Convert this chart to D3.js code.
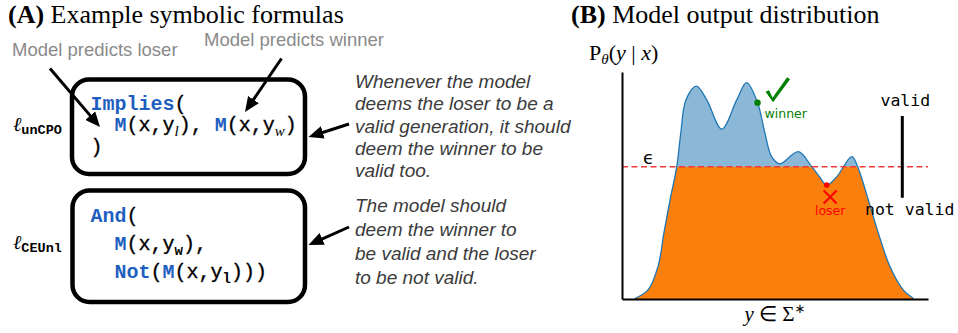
<!DOCTYPE html>
<html>
<head>
<meta charset="utf-8">
<script src="https://cdn.jsdelivr.net/npm/d3@7"></script>
<style>
  body { margin: 0; background: #fff; }
  .code { font-family: "Liberation Mono", "Courier New", monospace; font-size: 20px; }
  .note { font-family: "Liberation Sans", sans-serif; font-style: italic; font-size: 19px; fill: #3b3b3b; }
</style>
</head>
<body>
<div id="chart"></div>
<script>
// Data (x along y ∈ Σ*, density in arbitrary units 0-100)

const curveX = [4.2, 8.5, 11.8, 13.7, 15.7, 17.9, 19.2, 20.9, 24.3, 27.7, 32.6, 37.5, 40.7, 44.3, 46.7,
  48.9, 51.6, 57.6, 62.0, 64.5, 66.9, 70.2, 75.1, 77.0, 80.5, 83.8, 87.6, 91.9, 95.2];
const curveY = [0.2, 4.0, 14.5, 29.1, 43.6, 58.3, 73.0, 87.7, 93.8, 87.7, 74.8, 87.7, 95.3, 86.5, 73.1,
  62.7, 59.5, 64.9, 58.3, 53.9, 50.2, 53.9, 62.7, 58.3, 43.6, 28.9, 14.2, 4.0, 0.3];
const epsilon = 58.3;
const winnerIndex = 13;
const loserIndex = 20;

const noteUnCPO = ["Whenever the model", "deems the loser to be a", "valid generation, it should",
  "deem the winner to be", "valid too."];
const noteCEUnl = ["The model should", "deem the winner to", "be valid and the loser", "to be not valid."];

// code lines: [text, kind]
const codeUnCPO = [
  [["Implies", "kw"], ["(", "p"]],
  [["M", "kw"], ["(x,y", "p"], ["l", "subI"], ["), ", "p"], ["M", "kw"], ["(x,y", "p"], ["w", "subI"], [")", "p"]],
  [[")", "p"]]
];
const codeCEUnl = [
  [["And", "kw"], ["(", "p"]],
  [["M", "kw"], ["(x,y", "p"], ["w", "subM"], ["),", "p"]],
  [["Not", "kw"], ["(", "p"], ["M", "kw"], ["(x,y", "p"], ["l", "subM"], [")))", "p"]]
];

const blue = "#1f5fc0";

const svg = d3.select("#chart").append("svg").attr("width", 958).attr("height", 333);

const defs = svg.append("defs");
defs.append("marker")
  .attr("id", "head")
  .attr("viewBox", "0 0 15 13")
  .attr("refX", 1)
  .attr("refY", 6.5)
  .attr("markerWidth", 15)
  .attr("markerHeight", 13)
  .attr("markerUnits", "userSpaceOnUse")
  .attr("orient", "auto")
  .append("path")
  .attr("d", "M0,0L15,6.5L0,13z")
  .attr("fill", "black");

function arrow(x1, y1, x2, y2) {
  const len = Math.hypot(x2 - x1, y2 - y1);
  const k = (len - 14) / len;
  svg.append("line")
    .attr("x1", x1).attr("y1", y1)
    .attr("x2", x1 + (x2 - x1) * k).attr("y2", y1 + (y2 - y1) * k)
    .attr("stroke", "black").attr("stroke-width", 3)
    .attr("marker-end", "url(#head)");
}

// ---------- Panel A ----------

const titleA = svg.append("text").attr("x", 8).attr("y", 23)
  .style("font-family", "Liberation Serif").style("font-size", "26px");
titleA.append("tspan").style("font-weight", "bold").text("(A)");
titleA.append("tspan").text(" Example symbolic formulas");

svg.append("text").attr("x", 12).attr("y", 56)
  .style("font-family", "Liberation Sans").style("font-size", "18.5px").attr("fill", "#8a8a8a")
  .text("Model predicts loser");
svg.append("text").attr("x", 204).attr("y", 46)
  .style("font-family", "Liberation Sans").style("font-size", "18.5px").attr("fill", "#8a8a8a")
  .text("Model predicts winner");

svg.append("rect").attr("x", 72).attr("y", 79.5).attr("width", 233).attr("height", 94.5)
  .attr("rx", 17).attr("fill", "none").attr("stroke", "black").attr("stroke-width", 4.5);
svg.append("rect").attr("x", 72.5).attr("y", 190.5).attr("width", 232.5).attr("height", 111.5)
  .attr("rx", 17).attr("fill", "none").attr("stroke", "black").attr("stroke-width", 4.5);

function codeLine(x, y, segs) {
  const t = svg.append("text").attr("class", "code").attr("x", x).attr("y", y);
  let shift = 0;
  segs.forEach(([str, kind]) => {
    const sp = t.append("tspan").text(str);
    const target = kind.startsWith("sub") ? 5 : 0;
    if (target !== shift) { sp.attr("dy", target - shift); shift = target; }
    if (kind === "kw") {
      sp.attr("fill", blue).style("font-weight", "bold");
    } else if (kind === "subI") {
      sp.style("font-family", "Liberation Serif").style("font-style", "italic").style("font-size", "15px");
    } else if (kind === "subM") {
      sp.style("font-size", "14px").style("font-weight", "bold");
    } else {
      sp.attr("stroke", "black").attr("stroke-width", 0.35);
    }
  });
}

const codeX1 = [90.5, 114.5, 90.5];
const codeY1 = [109.5, 131, 152.5];
codeUnCPO.forEach((segs, i) => codeLine(codeX1[i], codeY1[i], segs));
const codeX2 = [90.5, 114.5, 114.5];
const codeY2 = [221.5, 250, 278];
codeCEUnl.forEach((segs, i) => codeLine(codeX2[i], codeY2[i], segs));

function lossLabel(y, sub) {
  const t = svg.append("text").attr("x", 13).attr("y", y);
  t.append("tspan").text("ℓ")
    .style("font-family", "DejaVu Serif").style("font-style", "italic").style("font-size", "20px");
  t.append("tspan").text(sub).attr("dy", 2.5)
    .style("font-family", "Liberation Mono").style("font-weight", "bold").style("font-size", "13.5px");
}
lossLabel(131, "unCPO");
lossLabel(249, "CEUnl");

noteUnCPO.forEach((s, i) => {
  svg.append("text").attr("class", "note").attr("x", 355).attr("y", 87.7 + i * 22.4).text(s);
});
noteCEUnl.forEach((s, i) => {
  svg.append("text").attr("class", "note").attr("x", 355).attr("y", 212 + i * 23.9).text(s);
});

arrow(50, 68.5, 100, 127);
arrow(281.5, 58.5, 245, 112);
arrow(349, 124, 308.5, 137);
arrow(349, 227, 308.5, 245);

// ---------- Panel B ----------

const titleB = svg.append("text").attr("x", 571).attr("y", 23)
  .style("font-family", "Liberation Serif").style("font-size", "26px");
titleB.append("tspan").style("font-weight", "bold").text("(B)");
titleB.append("tspan").text(" Model output distribution");

const x = d3.scaleLinear().domain([0, 100]).range([622, 928]);
const y = d3.scaleLinear().domain([0, 100]).range([299, 72]);

const pts = curveX.map((v, i) => [v, curveY[i]]);

const area = d3.area()
  .x(d => x(d[0]))
  .y0(y(0))
  .y1(d => y(d[1]))
  .curve(d3.curveCatmullRom.alpha(0.5));

const line = d3.line()
  .x(d => x(d[0]))
  .y(d => y(d[1]))
  .curve(d3.curveCatmullRom.alpha(0.5));

defs.append("clipPath").attr("id", "below-eps")
  .append("rect")
  .attr("x", x(0)).attr("y", y(epsilon))
  .attr("width", x(100) - x(0)).attr("height", y(0) - y(epsilon));

svg.append("path").datum(pts).attr("d", area).attr("fill", "#8cb8d8");
svg.append("path").datum(pts).attr("d", area).attr("fill", "#fa7f0c").attr("clip-path", "url(#below-eps)");
svg.append("path").datum(pts).attr("d", line).attr("fill", "none").attr("stroke", "#1f77b4").attr("stroke-width", 1.3);

svg.append("line")
  .attr("x1", x(0)).attr("x2", x(100))
  .attr("y1", y(epsilon)).attr("y2", y(epsilon))
  .attr("stroke", "#ee3a3a").attr("stroke-width", 1.5).attr("stroke-dasharray", "6,3.5");

// axes: spines only
svg.append("g").attr("transform", `translate(${x(0)},0)`)
  .call(d3.axisLeft(y).ticks(0).tickSizeOuter(0))
  .select(".domain").attr("stroke-width", 2);
svg.append("g").attr("transform", `translate(0,${y(0)})`)
  .call(d3.axisBottom(x).ticks(0).tickSizeOuter(0))
  .select(".domain").attr("stroke-width", 2);

svg.append("text").attr("x", 643).attr("y", 164)
  .style("font-family", "DejaVu Sans").style("font-size", "18px").text("ϵ");

// axis labels
const yl = svg.append("text").attr("x", 589).attr("y", 60)
  .style("font-family", "Liberation Serif").style("font-size", "22px");
yl.append("tspan").text("P");
yl.append("tspan").text("θ").attr("dy", 4).style("font-style", "italic").style("font-size", "15px");
yl.append("tspan").text("(").attr("dy", -4);
yl.append("tspan").text("y").style("font-style", "italic");
yl.append("tspan").text(" | ");
yl.append("tspan").text("x").style("font-style", "italic");
yl.append("tspan").text(")");

const xl = svg.append("text").attr("x", 775).attr("y", 321).attr("text-anchor", "middle")
  .style("font-family", "Liberation Serif").style("font-size", "21px");
xl.append("tspan").text("y").style("font-style", "italic");
xl.append("tspan").text(" ∈ Σ");
xl.append("tspan").text("∗").attr("dy", -8).style("font-family", "DejaVu Sans").style("font-size", "13px");

// winner / loser
const wx = x(curveX[winnerIndex]), wy = y(curveY[winnerIndex]);
svg.append("circle").attr("cx", wx).attr("cy", wy).attr("r", 3.2).attr("fill", "#008000");
const check = [[8, -11], [11.5, -12.5], [15, -5], [29.5, -25.5], [32.5, -23.5], [15.5, -0.5]];
svg.append("path")
  .attr("d", "M" + check.map(([dx, dy]) => `${wx + dx},${wy + dy}`).join("L") + "Z")
  .attr("fill", "#008000");
svg.append("text").attr("x", wx + 7).attr("y", wy + 15)
  .style("font-family", "DejaVu Sans").style("font-size", "12.5px").attr("fill", "#008000").text("winner");

const lx = x(curveX[loserIndex]), ly = y(curveY[loserIndex]);
svg.append("circle").attr("cx", lx).attr("cy", ly).attr("r", 2.8).attr("fill", "red");
const cx = lx + 3.5, cy = ly + 12;
svg.append("path")
  .attr("d", `M${cx - 6.5},${cy - 6.5}L${cx + 6.5},${cy + 6.5}M${cx - 6.5},${cy + 6.5}L${cx + 6.5},${cy - 6.5}`)
  .attr("stroke", "red").attr("stroke-width", 2.2).attr("fill", "none");
svg.append("text").attr("x", cx).attr("y", ly + 29.5).attr("text-anchor", "middle")
  .style("font-family", "DejaVu Sans").style("font-size", "12.5px").attr("fill", "red").text("loser");

// valid / not valid
svg.append("line")
  .attr("x1", x(91.6)).attr("x2", x(91.6))
  .attr("y1", y(80.6)).attr("y2", y(44.6))
  .attr("stroke", "black").attr("stroke-width", 3);
svg.append("text").attr("x", 880.5).attr("y", 105.5)
  .style("font-family", "DejaVu Sans Mono").style("font-size", "16.5px").text("valid");
svg.append("text").attr("x", 865).attr("y", 215)
  .style("font-family", "DejaVu Sans Mono").style("font-size", "16.5px").text("not valid");
</script>
</body>
</html>
